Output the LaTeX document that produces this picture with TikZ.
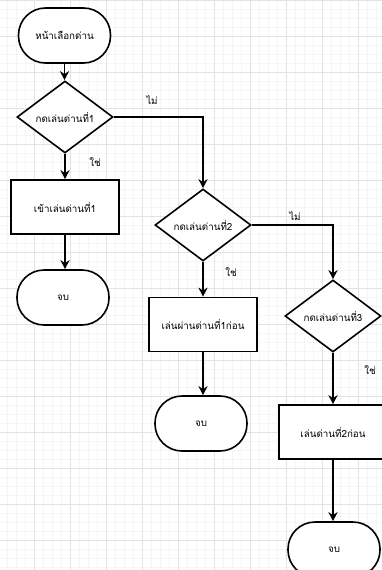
\documentclass[tikz,border=0pt]{standalone}
\usepackage{fontspec}
\newfontfamily\thaifont[Script=Thai]{Loma}
\usetikzlibrary{shapes.geometric,arrows.meta}
\tikzset{
  base/.style={draw=black, line width=1.6pt, fill=white, font=\thaifont\fontsize{9.8}{11}\selectfont, inner sep=0pt, align=center},
  term/.style={base, rectangle, rounded corners=27pt, minimum width=92pt, minimum height=55pt},
  proc/.style={base, rectangle, minimum width=108pt, minimum height=54pt},
  dec/.style={base, diamond, minimum width=96pt, minimum height=72pt},
  conn/.style={draw=black, line width=1.6pt, -{Stealth[length=9pt,width=9pt]}},
  lbl/.style={font=\thaifont\fontsize{9.8}{11}\selectfont, inner sep=0pt},
  minorg/.style={draw=black!4, line width=0.5pt},
  majorg/.style={draw=black!11, line width=0.8pt}
}
\begin{document}
\begin{tikzpicture}[x=1pt,y=-1pt]
\clip (0,0) rectangle (382,570);
\fill[white] (0,0) rectangle (382,570);
\foreach \i in {0,...,42} {\draw[minorg] (7+9*\i,0) -- (7+9*\i,570);}
\foreach \i in {0,...,63} {\draw[minorg] (0,9*\i) -- (382,9*\i);}
\foreach \i in {0,...,10} {\draw[majorg] (-2+36*\i,0) -- (-2+36*\i,570);}
\foreach \i in {0,...,15} {\draw[majorg] (0,36*\i) -- (382,36*\i);}

\node[term] (start) at (64.5,35.5) {หน้าเลือกด่าน};
\node[dec] (d1) at (65,117) {กดเล่นด่านที่1};
\node[proc] (b1) at (65,207) {เข้าเล่นด่านที่1};
\node[term] (e1) at (63,297.5) {จบ};
\node[dec] (d2) at (203,225) {กดเล่นด่านที่2};
\node[proc] (b2) at (203,324.5) {เล่นผ่านด่านที่1ก่อน};
\node[term] (e2) at (201,423.5) {จบ};
\node[dec] (d3) at (333,316) {กดเล่นด่านที่3};
\node[proc] (b3) at (333,432) {เล่นด่านที่2ก่อน};
\node[term] (e3) at (334,549.5) {จบ};

\draw[conn] (start.south) -- (start.south |- d1.north);
\draw[conn] (d1.south) -- (d1.south |- b1.north);
\draw[conn] (b1.south) -- (b1.south |- e1.north);
\draw[conn] (d1.east) -| (d2.north);
\draw[conn] (d2.south) -- (b2.north);
\draw[conn] (b2.south) -- (b2.south |- e2.north);
\draw[conn] (d2.east) -| (d3.north);
\draw[conn] (d3.south) -- (b3.north);
\draw[conn] (b3.south) -- (b3.south |- e3.north);

\node[lbl] (l1) at (152,100) {ไม่};
\node[lbl] (l2) at (95,162) {ใช่};
\node[lbl] (l3) at (295,216) {ไม่};
\node[lbl] (l4) at (231,272) {ใช่};
\node[lbl] (l5) at (370,370) {ใช่};
\end{tikzpicture}
\end{document}
